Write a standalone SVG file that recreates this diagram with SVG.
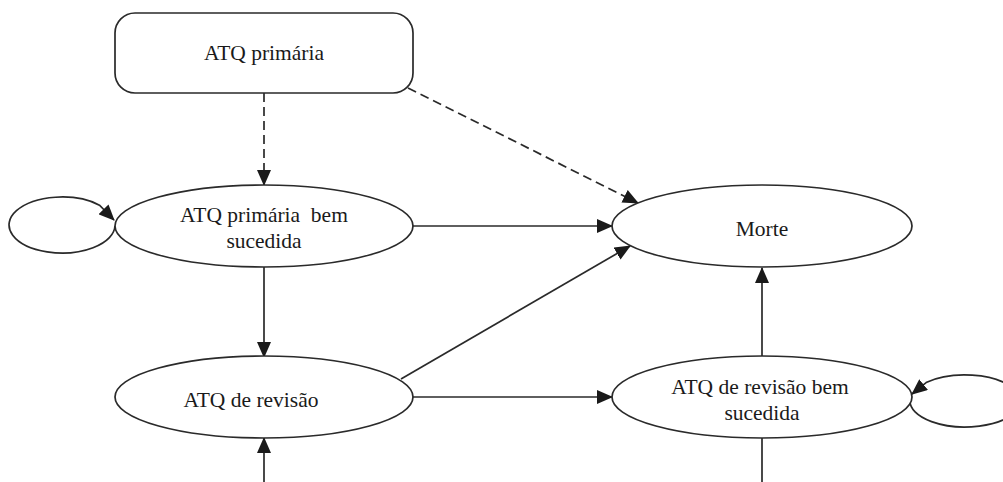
<svg xmlns="http://www.w3.org/2000/svg" width="1003" height="482" viewBox="0 0 1003 482">
<defs>
<marker id="arr" markerUnits="userSpaceOnUse" markerWidth="16" markerHeight="14" viewBox="0 0 16 14" refX="15" refY="7" orient="auto">
<path d="M0,0 L16,7 L0,14 z" fill="#1a1a1a"/>
</marker>
</defs>
<style>
.shape{fill:#fff;stroke:#2a2a2a;stroke-width:1.7}
.edge{fill:none;stroke:#2a2a2a;stroke-width:1.7}
.dash{stroke-dasharray:9 5}
.lbl{font-family:"Liberation Serif","Times New Roman",serif;font-size:21.5px;fill:#1a1a1a;text-anchor:middle;white-space:pre}
</style>
<rect width="1003" height="482" fill="#fff"/>
<g id="connectors">
<line class="edge dash" x1="264" y1="93" x2="264" y2="185" marker-end="url(#arr)"/>
<line class="edge dash" x1="408" y1="88" x2="638" y2="203" marker-end="url(#arr)"/>
<line class="edge" x1="413" y1="226" x2="612" y2="226" marker-end="url(#arr)"/>
<line class="edge" x1="264" y1="267" x2="264" y2="357" marker-end="url(#arr)"/>
<line class="edge" x1="264" y1="482" x2="264" y2="438" marker-end="url(#arr)"/>
<line class="edge" x1="401" y1="379" x2="630" y2="246" marker-end="url(#arr)"/>
<line class="edge" x1="413" y1="397" x2="612" y2="397" marker-end="url(#arr)"/>
<line class="edge" x1="762" y1="357" x2="762" y2="268" marker-end="url(#arr)"/>
<line class="edge" x1="762" y1="438" x2="762" y2="482"/>
<path class="edge" d="M115,226 A53,28 0 1 1 99.5,205.2 L114,220" marker-end="url(#arr)"/>
<path class="edge" d="M910,401 A55,26 0 1 0 926.1,382.6 L912,394" marker-end="url(#arr)"/>
</g>
<g id="atq-primaria">
<rect class="shape" x="115" y="13" width="298" height="80" rx="20" ry="20"/>
<text class="lbl" x="264" y="60">ATQ primária</text>
</g>
<g id="atq-primaria-bem-sucedida">
<ellipse class="shape" cx="264" cy="226" rx="149" ry="41"/>
<text class="lbl" x="264" y="222">ATQ primária  bem</text>
<text class="lbl" x="264" y="248">sucedida</text>
</g>
<g id="morte">
<ellipse class="shape" cx="762" cy="226" rx="150" ry="41"/>
<text class="lbl" x="762" y="236">Morte</text>
</g>
<g id="atq-revisao">
<ellipse class="shape" cx="264" cy="397" rx="149" ry="41"/>
<text class="lbl" x="251" y="407">ATQ de revisão</text>
</g>
<g id="atq-revisao-bem-sucedida">
<ellipse class="shape" cx="762" cy="397" rx="150" ry="41"/>
<text class="lbl" x="760" y="394">ATQ de revisão bem</text>
<text class="lbl" x="762" y="420">sucedida</text>
</g>
</svg>
